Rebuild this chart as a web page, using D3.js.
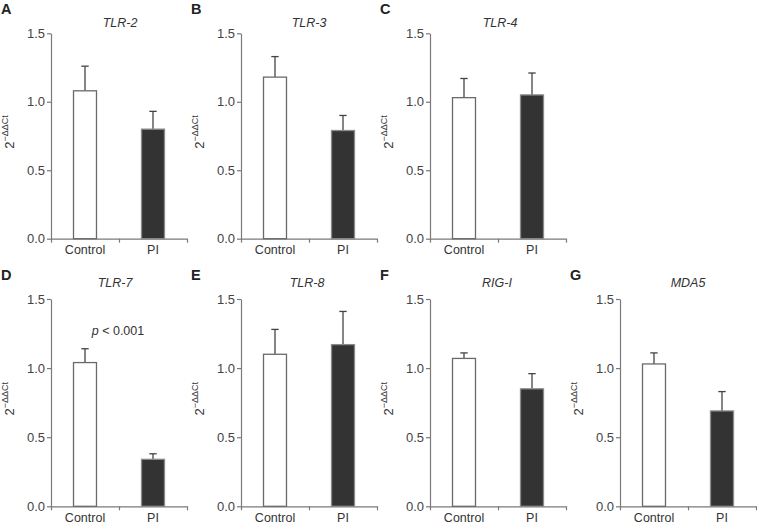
<!DOCTYPE html>
<html>
<head>
<meta charset="utf-8">
<script src="https://cdn.jsdelivr.net/npm/d3@7"></script>
<style>
  html, body { margin: 0; padding: 0; background: #fff; }
  svg { display: block; font-family: "Liberation Sans", Arial, sans-serif; }
</style>
</head>
<body>
<svg id="chart" width="757" height="524"></svg>
<script>
// ---- data ----
const genes = ["TLR-2", "TLR-3", "TLR-4", "TLR-7", "TLR-8", "RIG-I", "MDA5"];
const panelLetters = ["A", "B", "C", "D", "E", "F", "G"];
const groups = ["Control", "PI"];
const controlMean = [1.08, 1.18, 1.03, 1.04, 1.10, 1.07, 1.03];
const controlErr  = [0.18, 0.15, 0.14, 0.10, 0.18, 0.04, 0.08];
const piMean      = [0.80, 0.79, 1.05, 0.34, 1.17, 0.85, 0.69];
const piErr       = [0.13, 0.11, 0.16, 0.04, 0.24, 0.11, 0.14];
const yTicks = [0, 0.5, 1.0, 1.5];
const pValueText = ["", "", "", "< 0.001", "", "", ""];

// ---- layout ----
const axisLeft = [51, 241, 430, 51, 241, 430, 620];
const rowOf = [0, 0, 0, 1, 1, 1, 1];
const rowTop = [33.3, 299];
const rowBottom = [238.7, 506.3];
const titleBase = [27.3, 287.3];
const titleOffset = [69, 68, 70, 64, 66, 67, 68];
const plotW = 136;

const svg = d3.select("#chart");
svg.append("rect").attr("width", 757).attr("height", 524).attr("fill", "#fff");

genes.forEach((gene, i) => {
  const x0 = axisLeft[i];
  const r = rowOf[i];
  const top = rowTop[r], bottom = rowBottom[r];
  const g = svg.append("g");

  const x = d3.scaleBand().domain(groups).range([x0, x0 + plotW])
    .paddingInner(0.662).paddingOuter(0.331);
  const xb = d3.scaleLinear().domain([0, 2]).range([x0, x0 + plotW]);
  const y = d3.scaleLinear().domain([0, 1.5]).range([bottom, top]);

  // y axis
  const ya = g.append("g").attr("transform", `translate(${x0},0)`)
    .call(d3.axisLeft(y).tickValues(yTicks).tickFormat(d3.format(".1f"))
      .tickSize(4).tickSizeOuter(0).tickPadding(2));
  ya.select(".domain").attr("stroke", "#7a7a7a").attr("stroke-width", 1.2);
  ya.selectAll(".tick line").attr("stroke", "#7a7a7a").attr("stroke-width", 1.2);
  ya.selectAll(".tick text").attr("fill", "#444").style("font-size", "13px")
    .style("font-family", "Liberation Sans, Arial, sans-serif");

  // x axis boundary ticks
  const xa = g.append("g").attr("transform", `translate(0,${bottom})`)
    .call(d3.axisBottom(xb).tickValues([0, 1, 2]).tickFormat("").tickSize(4).tickSizeOuter(0));
  xa.select(".domain").attr("stroke", "#7a7a7a").attr("stroke-width", 1.2);
  xa.selectAll(".tick line").attr("stroke", "#7a7a7a").attr("stroke-width", 1.2);

  // x category labels
  const xl = g.append("g").attr("transform", `translate(0,${bottom})`)
    .call(d3.axisBottom(x).tickSize(0).tickPadding(6.8));
  xl.select(".domain").remove();
  xl.selectAll(".tick text").attr("fill", "#333").style("font-size", "12.5px")
    .style("font-family", "Liberation Sans, Arial, sans-serif");

  const means = [controlMean[i], piMean[i]];
  const errs = [controlErr[i], piErr[i]];
  const bw = x.bandwidth();

  // error bars (drawn first so bar top covers base)
  groups.forEach((grp, k) => {
    const cx = x(grp) + bw / 2;
    g.append("line").attr("x1", cx).attr("x2", cx)
      .attr("y1", y(means[k])).attr("y2", y(means[k] + errs[k]))
      .attr("stroke", "#444").attr("stroke-width", 1.3);
    g.append("line").attr("x1", cx - 3.7).attr("x2", cx + 3.7)
      .attr("y1", y(means[k] + errs[k])).attr("y2", y(means[k] + errs[k]))
      .attr("stroke", "#444").attr("stroke-width", 1.3);
  });

  // bars
  groups.forEach((grp, k) => {
    g.append("rect")
      .attr("x", x(grp)).attr("y", y(means[k]))
      .attr("width", bw).attr("height", bottom - y(means[k]))
      .attr("fill", k === 0 ? "#fff" : "#333")
      .attr("stroke", k === 0 ? "#6a6a6a" : "#8a8a8a")
      .attr("stroke-width", 1.3);
  });

  // title
  g.append("text").attr("x", x0 + titleOffset[i]).attr("y", titleBase[r])
    .attr("text-anchor", "middle").attr("fill", "#333")
    .style("font-size", "12.5px").style("font-style", "italic")
    .text(gene);

  // panel letter
  g.append("text").attr("x", x0 - 50).attr("y", top - 19)
    .attr("fill", "#222").style("font-size", "14.5px").style("font-weight", "bold")
    .text(panelLetters[i]);

  // y label 2^-ΔΔCt
  const ylab = g.append("text")
    .attr("transform", `translate(${x0 - 37.5},${(top + bottom) / 2 - 4}) rotate(-90)`)
    .attr("text-anchor", "middle").attr("fill", "#333");
  ylab.append("tspan").style("font-size", "13px").text("2");
  ylab.append("tspan").style("font-size", "9px").attr("dy", "-5.5").text("\u2212\u0394\u0394Ct");

  // p value
  if (pValueText[i]) {
    const pt = g.append("text").attr("x", x0 + 67).attr("y", y(1.24))
      .attr("text-anchor", "middle").attr("fill", "#333").style("font-size", "12.5px");
    pt.append("tspan").style("font-style", "italic").text("p");
    pt.append("tspan").text(" " + pValueText[i]);
  }
});
</script>
</body>
</html>
